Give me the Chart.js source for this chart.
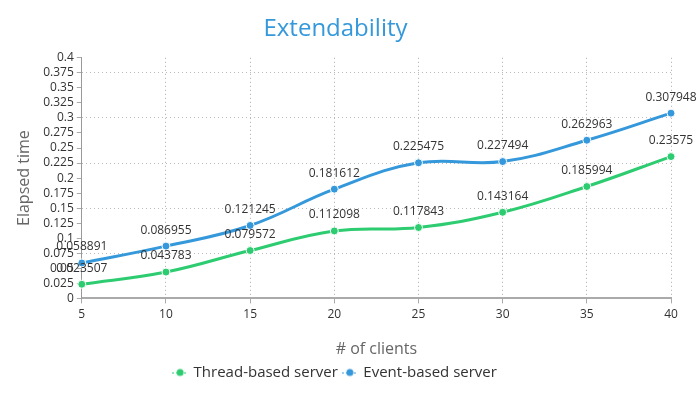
<!DOCTYPE html>
<html lang="en">
<head>
<meta charset="UTF-8">
<title>Extendability</title>
<script src="https://cdn.jsdelivr.net/npm/chart.js"></script>
<style>
  body { margin: 0; background: #fff; }
  .graphique { width: 700px; height: 400px; position: relative; }
</style>
</head>
<body>
<div class="graphique"><canvas id="graphique"></canvas></div>

<script>
// data
const clients = ['5', '10', '15', '20', '25', '30', '35', '40'];
const threadBased = [0.023507, 0.043783, 0.079572, 0.112098, 0.117843, 0.143164, 0.185994, 0.23575];
const eventBased = [0.058891, 0.086955, 0.121245, 0.181612, 0.225475, 0.227494, 0.262963, 0.307948];

const VERT = '#2ecc71';
const BLEU = '#3498db';
const police = '"Open Sans", "Noto Sans", sans-serif';

// petite icone ligne pointillee + point pour la legende
function iconeLegende(couleur) {
    const c = document.createElement('canvas');
    c.width = 16; c.height = 10;
    const g = c.getContext('2d');
    g.strokeStyle = couleur;
    g.lineWidth = 1;
    g.setLineDash([2, 2]);
    g.beginPath(); g.moveTo(0, 5.5); g.lineTo(16, 5.5); g.stroke();
    g.fillStyle = couleur;
    g.beginPath(); g.arc(8, 5, 3.5, 0, Math.PI * 2); g.fill();
    return c;
}

// valeurs au dessus des points
const etiquettes = {
    id: 'etiquettes',
    afterDatasetsDraw(chart) {
        const ctx = chart.ctx;
        ctx.save();
        ctx.font = '12px ' + police;
        ctx.fillStyle = '#333';
        ctx.textAlign = 'center';
        ctx.textBaseline = 'middle';
        chart.data.datasets.forEach((ds, i) => {
            chart.getDatasetMeta(i).data.forEach((pt, j) => {
                ctx.fillText(String(ds.data[j]), pt.x, pt.y - 16);
            });
        });
        ctx.restore();
    }
};

function serie(label, valeurs, couleur) {
    return {
        label: label,
        data: valeurs,
        borderColor: couleur,
        backgroundColor: couleur,
        borderWidth: 3,
        tension: 0.4,
        fill: false,
        pointStyle: 'circle',
        pointRadius: 4,
        pointBackgroundColor: couleur,
        pointBorderColor: '#fff',
        pointBorderWidth: 1
    };
}

new Chart(document.getElementById('graphique').getContext('2d'), {
    type: 'line',
    data: {
        labels: clients,
        datasets: [
            serie('Thread-based server', threadBased, VERT),
            serie('Event-based server', eventBased, BLEU)
        ]
    },
    options: {
        responsive: true,
        maintainAspectRatio: false,
        animation: false,
        layout: { padding: { right: 29, bottom: 10 } },
        plugins: {
            title: {
                display: true,
                text: 'Extendability',
                color: '#3498db',
                font: { family: police, size: 24, weight: 'normal' },
                padding: { top: 15, bottom: 14 }
            },
            legend: {
                position: 'bottom',
                labels: {
                    usePointStyle: true,
                    pointStyleWidth: 12,
                    color: '#333',
                    padding: 6,
                    font: { family: police, size: 15 },
                    generateLabels(chart) {
                        return chart.data.datasets.map((ds, i) => ({
                            text: ds.label,
                            pointStyle: iconeLegende(ds.borderColor),
                            fillStyle: ds.borderColor,
                            strokeStyle: ds.borderColor,
                            lineWidth: 0,
                            fontColor: '#333',
                            hidden: !chart.isDatasetVisible(i),
                            datasetIndex: i
                        }));
                    }
                }
            },
            tooltip: { enabled: false }
        },
        scales: {
            x: {
                title: {
                    display: true,
                    text: '# of clients',
                    color: '#666',
                    font: { family: police, size: 16 },
                    padding: { top: 14, bottom: 0 }
                },
                ticks: { color: '#333', font: { family: police, size: 12 }, padding: 4, maxRotation: 0 },
                grid: { color: '#aaa', tickColor: '#aaa', tickLength: 5, lineWidth: 1 },
                border: { color: '#aaa', width: 2, dash: [1, 3] }
            },
            y: {
                min: 0,
                max: 0.4,
                title: {
                    display: true,
                    text: 'Elapsed time',
                    color: '#666',
                    font: { family: police, size: 16 },
                    padding: { top: 15, bottom: 6 }
                },
                ticks: {
                    stepSize: 0.025,
                    autoSkip: false,
                    color: '#333',
                    font: { family: police, size: 12 },
                    padding: 3,
                    callback: v => String(+v.toFixed(3))
                },
                grid: {
                    color: c => (c.index % 3 === 0 ? '#bbb' : 'rgba(0,0,0,0)'),
                    tickColor: '#aaa',
                    tickLength: 5,
                    lineWidth: 1
                },
                border: { color: '#999', width: 1, dash: [1, 3] }
            }
        }
    },
    plugins: [etiquettes]
});
</script>
</body>
</html>
